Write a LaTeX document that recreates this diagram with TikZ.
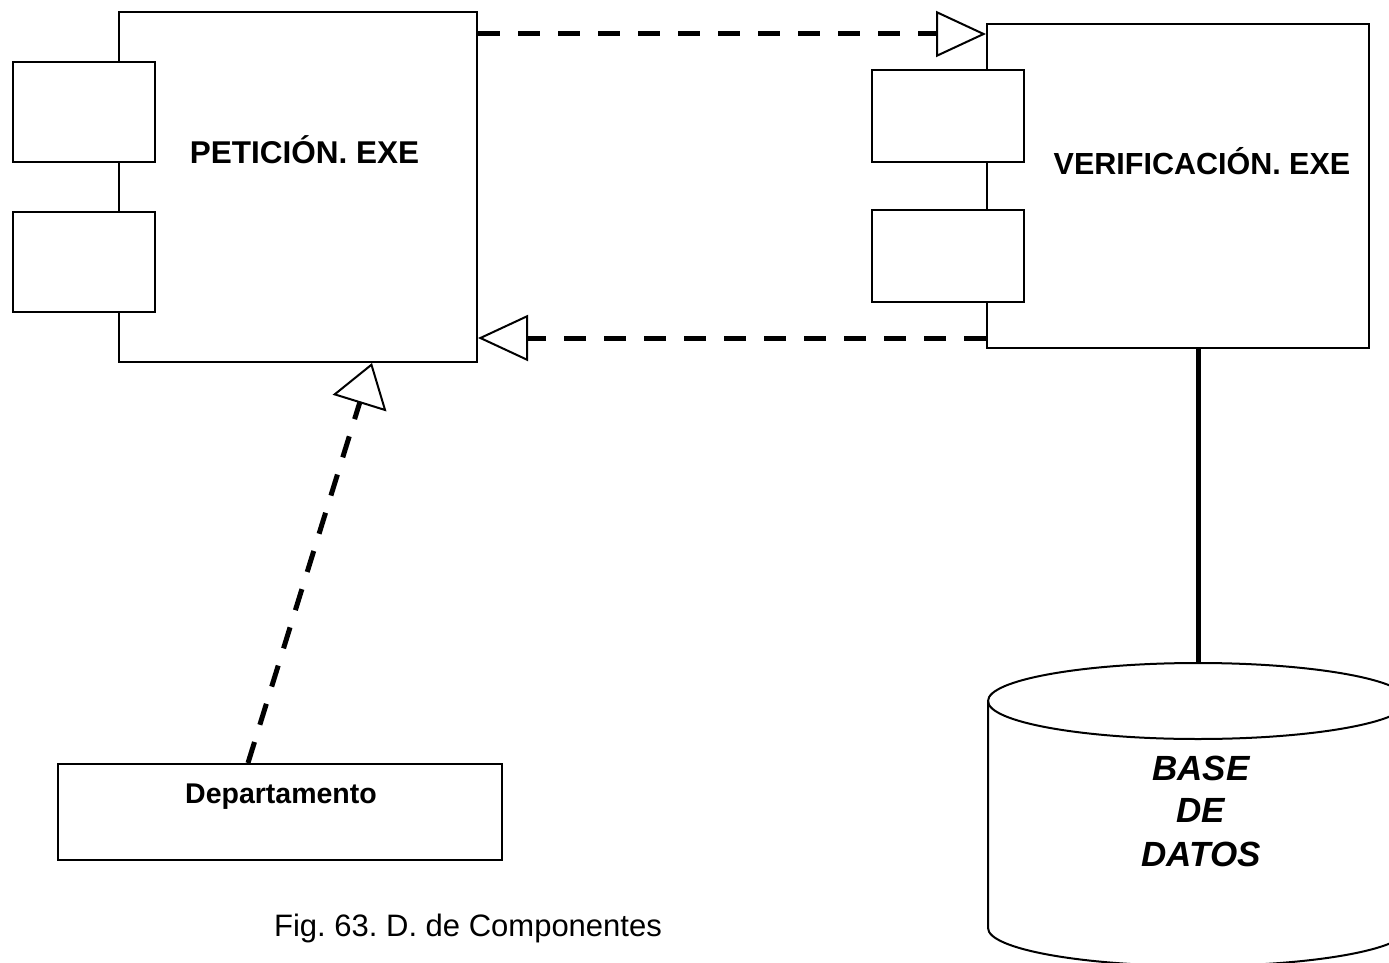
\documentclass[tikz,border=0pt]{standalone}
\usepackage{fontspec}
\setmainfont{Liberation Sans}
\usetikzlibrary{arrows.meta}
\frenchspacing
\begin{document}
\begin{tikzpicture}[x=1pt,y=-1pt,
  comp/.style={draw, line width=2pt, fill=white, inner sep=0pt, anchor=north west},
  port/.style={comp, minimum width=142pt},
  vport/.style={comp, minimum width=152pt, minimum height=92pt},
  realize/.style={line width=5pt, dash pattern=on 22pt off 18pt,
    -{Triangle[open, length=50pt, width=46pt, line width=2pt]}},
  lbl/.style={font=\bfseries\fontsize{31}{36}\selectfont, anchor=base, inner sep=0pt},
  dblbl/.style={font=\bfseries\itshape\fontsize{35}{42}\selectfont, anchor=base, inner sep=0pt}]
\useasboundingbox (0,0) rectangle (1389,963);
% PETICION component
\node[comp, minimum width=358pt, minimum height=350pt] (pet) at (118,11) {};
\node[port, minimum height=100pt] (pp1) at (12,61) {};
\node[port, minimum height=100pt] (pp2) at (12,211) {};
\node[lbl, font=\bfseries\fontsize{31.5}{36}\selectfont] (petl) at (304.5,164) {PETICIÓN. EXE};
% VERIFICACION component
\node[comp, minimum width=382pt, minimum height=324pt] (ver) at (986,23) {};
\node[vport] (vp1) at (871,69) {};
\node[vport] (vp2) at (871,209) {};
\node[lbl, font=\bfseries\fontsize{30.5}{36}\selectfont] (verl) at (1202,174) {VERIFICACIÓN. EXE};
% Departamento
\node[comp, minimum width=444pt, minimum height=96pt] (dep) at (57,763) {};
\node[lbl, font=\bfseries\fontsize{28.5}{34}\selectfont] (depl) at (281,803) {Departamento};
% Database cylinder
\coordinate (dbtop) at (1198,663);
\draw[line width=2pt, fill=white] (988,701) -- (988,928)
  arc[start angle=180, end angle=360, x radius=210pt, y radius=38pt]
  -- (1408,701)
  arc[start angle=0, end angle=180, x radius=210pt, y radius=38pt] -- cycle;
\draw[line width=2pt] (988,701) arc[start angle=180, end angle=360, x radius=210pt, y radius=38pt];
\node[dblbl] (db1) at (1201,780) {BASE};
\node[dblbl] (db2) at (1201,822) {DE};
\node[dblbl] (db3) at (1201,866) {DATOS};
% connectors
\draw[realize] (pet.north east |- 0,34) -- (ver.west |- 0,34);
\draw[realize] (ver.west |- 0,338) -- (pet.east |- 0,338);
\draw[realize, -{Triangle[open, length=42pt, width=56pt, line width=2pt]}] (dep.north -| 248,0) -- (pet.south -| 372,0);
\draw[line width=5pt] (ver.south -| 1198,0) -- (dbtop);
% caption
\node[anchor=base, inner sep=0pt, font=\fontsize{31}{36}\selectfont] (cap) at (468,936) {Fig. 63. D. de Componentes};
\end{tikzpicture}
\end{document}
